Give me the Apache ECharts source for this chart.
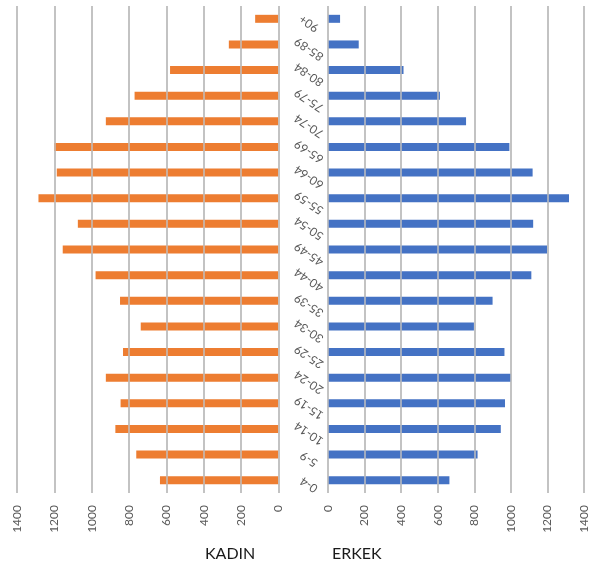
<!DOCTYPE html>
<html>
<head>
<meta charset="utf-8">
<script src="https://cdn.jsdelivr.net/npm/echarts@6/dist/echarts.min.js"></script>
<style>
html,body{margin:0;padding:0;background:#fff;}
#chart{width:590px;height:565px;}
</style>
</head>
<body>
<div id="chart"></div>
<script>
var categories = ['0-4','5-9','10-14','15-19','20-24','25-29','30-34','35-39','40-44','45-49','50-54','55-59','60-64','65-69','70-74','75-79','80-84','85-89','90+'];
var kadin = [634, 761, 873, 845, 924, 832, 737, 848, 979, 1155, 1074, 1285, 1187, 1201, 924, 770, 580, 265, 124];
var erkek = [664, 818, 945, 968, 1001, 965, 798, 900, 1112, 1198, 1122, 1318, 1119, 992, 755, 612, 413, 168, 66];
var gridTicks = [0, 200, 400, 600, 800, 1000, 1200, 1400];
var tickMax = 1400;
var tickStep = 200;
var nameLeft = 'KADIN';
var nameRight = 'ERKEK';

var FONT = 'Lato';
var gridColor = '#bfbfbf';
var labelColor = '#595959';

function plain(v) { return String(v); }

function gridSeries(xi) {
  return {
    type: 'line', xAxisIndex: xi, yAxisIndex: xi, data: [], z: 1, silent: true,
    markLine: {
      silent: true, symbol: ['none', 'none'], label: {show: false},
      lineStyle: {color: gridColor, width: 1.5, type: 'solid', opacity: 1},
      emphasis: {disabled: true},
      data: gridTicks.map(function (v) { return {xAxis: v}; })
    }
  };
}

var chart = echarts.init(document.getElementById('chart'), null, {renderer: 'canvas'});
chart.setOption({
  animation: false,
  backgroundColor: '#fff',
  textStyle: {fontFamily: FONT},
  grid: [
    {left: 17, width: 261.3, top: 6, height: 487},
    {left: 328, width: 260.7, top: 6, height: 487}
  ],
  xAxis: [
    {gridIndex: 0, type: 'value', inverse: true, min: 0, max: tickMax, interval: tickStep,
     splitLine: {show: true, lineStyle: {color: gridColor, width: 1.5, opacity: 1}},
     axisLabel: {rotate: 90, margin: 12, fontSize: 12, color: labelColor, fontFamily: FONT, formatter: plain}},
    {gridIndex: 1, type: 'value', min: 0, max: tickMax, interval: tickStep,
     splitLine: {show: true, lineStyle: {color: gridColor, width: 1.5, opacity: 1}},
     axisLabel: {rotate: 90, margin: 12, fontSize: 12, color: labelColor, fontFamily: FONT, formatter: plain}}
  ],
  yAxis: [
    {gridIndex: 0, type: 'category', data: categories, position: 'right',
     axisLine: {show: false}, axisTick: {show: false},
     axisLabel: {margin: 24, rotate: 146, align: 'center', verticalAlign: 'middle',
                 padding: [0, 16, 24, 0],
                 fontSize: 12, color: labelColor, fontFamily: FONT}},
    {gridIndex: 1, type: 'category', data: categories,
     axisLine: {show: false}, axisTick: {show: false}, axisLabel: {show: false}}
  ],
  series: [
    gridSeries(0),
    gridSeries(1),
    {name: nameLeft, type: 'bar', xAxisIndex: 0, yAxisIndex: 0, data: kadin, barWidth: 8, z: 3,
     itemStyle: {color: '#ED7D31'}},
    {name: nameRight, type: 'bar', xAxisIndex: 1, yAxisIndex: 1, data: erkek, barWidth: 8, z: 3,
     itemStyle: {color: '#4472C4'}}
  ],
  graphic: [
    {type: 'text', left: 205, top: 546, style: {text: nameLeft, font: '16px Lato', fill: '#1a1a1a'}},
    {type: 'text', left: 332, top: 546, style: {text: nameRight, font: '16px Lato', fill: '#1a1a1a'}}
  ]
});
</script>
</body>
</html>
